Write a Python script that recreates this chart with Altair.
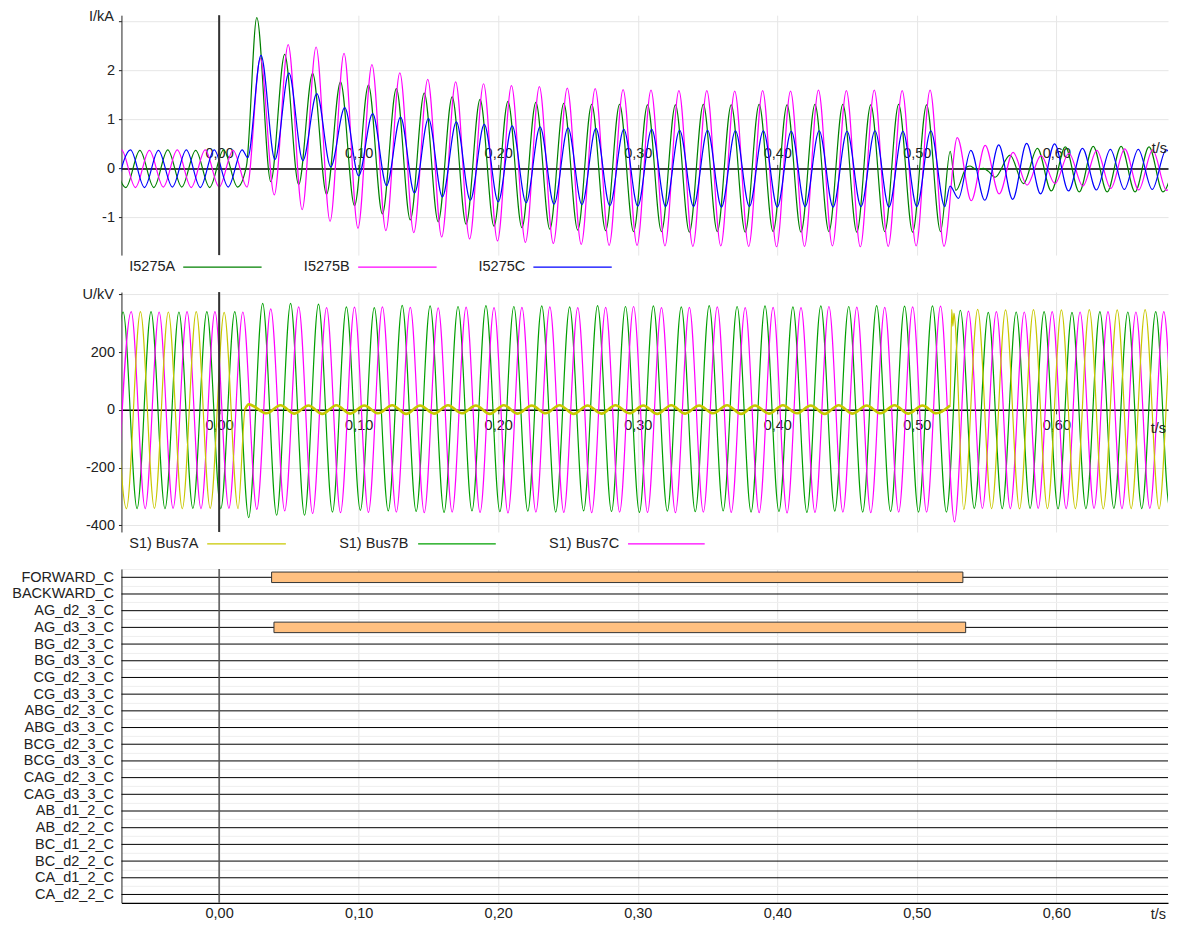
import altair as alt
import pandas as pd

FONT = "Liberation Sans"
FS = 14.5
TXT = "#222222"
GRID = "#e6e6e6"

T_MIN, T_MAX = -0.07, 0.68
STEP = 0.01          # spacing of successive extrema
X_TICKS = [0.0, 0.1, 0.2, 0.3, 0.4, 0.5, 0.6]

# ---------------- currents (kA), extrema ----------------
IA_PRE_T0 = -0.0768
IA_PRE = [0.38, -0.39, 0.37, -0.39, 0.38, -0.38, 0.37, -0.39, 0.38, -0.38]
IA_FAULT_T0 = 0.027
IA_FAULT = [3.08, -0.27, 2.33, -0.33, 1.94, -0.53, 1.77, -0.76, 1.70, -0.93,
            1.63, -1.05, 1.54, -1.09, 1.46, -1.14, 1.41, -1.18, 1.37, -1.21,
            1.35, -1.24, 1.33, -1.26, 1.31, -1.27, 1.31, -1.29, 1.30, -1.29,
            1.30, -1.30, 1.31, -1.29, 1.30, -1.30, 1.31, -1.29, 1.30, -1.30,
            1.31, -1.29, 1.31, -1.30, 1.30, -1.29, 1.31, -1.30, 1.30, -1.29]
IA_TR_T = [0.0196, 0.5239, 0.5280, 0.5358, 0.5382, 0.5430, 0.5477, 0.5513, 0.5561, 0.5668, 0.5764]
IA_TR_V = [0.05, 0.35, -0.45, 0.03, 0.05, -0.03, 0.00, -0.06, -0.18, 0.27, -0.31]
IA_POST_T0 = 0.5864
IA_POST = [0.41, -0.46, 0.44, -0.48, 0.45, -0.48, 0.45, -0.48, 0.44, -0.48, 0.44]

IB_PRE_T0 = -0.080
IB_PRE = [-0.38, 0.38, -0.39, 0.37, -0.38, 0.38, -0.39, 0.38, -0.38, 0.37, -0.38]
IB_FAULT_T0 = 0.0295
IB_FAULT = [2.25, -0.54, 2.53, -0.84, 2.48, -1.08, 2.35, -1.22, 2.12, -1.27,
            1.95, -1.31, 1.82, -1.40, 1.77, -1.44, 1.73, -1.48, 1.69, -1.51,
            1.67, -1.53, 1.64, -1.55, 1.63, -1.57, 1.61, -1.57, 1.60, -1.58,
            1.59, -1.59, 1.59, -1.58, 1.58, -1.59, 1.59, -1.60, 1.58, -1.59,
            1.60, -1.58, 1.59, -1.60, 1.60, -1.59, 1.59, -1.58, 1.60, -1.59]
IB_POST_T0 = 0.529
IB_POST = [0.63, -0.66, 0.47, -0.52, 0.33, -0.34, 0.26, -0.31, 0.31, -0.36,
           0.37, -0.41, 0.40, -0.44, 0.38, -0.45, 0.38]

IC_PRE_T0 = -0.0735
IC_PRE = [-0.39, 0.38, -0.39, 0.37, -0.38, 0.38, -0.39, 0.38, -0.38, 0.38]
IC_FAULT_T0 = 0.030
IC_FAULT = [2.31, 0.18, 1.95, 0.16, 1.53, 0.03, 1.24, -0.15, 1.12, -0.35,
            1.05, -0.50, 1.02, -0.58, 0.95, -0.65, 0.90, -0.68, 0.87, -0.70,
            0.85, -0.73, 0.83, -0.74, 0.82, -0.76, 0.80, -0.77, 0.80, -0.78,
            0.78, -0.78, 0.78, -0.79, 0.77, -0.78, 0.77, -0.79, 0.76, -0.78,
            0.77, -0.79, 0.76, -0.78, 0.77, -0.79, 0.76, -0.78, 0.77, -0.78]
IC_TR_T = [0.0205, 0.5238, 0.5298]
IC_TR_V = [0.22, -0.36, -0.61]
IC_POST_T0 = 0.5387
IC_POST = [0.37, -0.65, 0.48, -0.63, 0.51, -0.52, 0.50, -0.46, 0.41, -0.44,
           0.39, -0.43, 0.39, -0.43, 0.38, -0.43]

# ---------------- voltages (kV), extrema ----------------
VA_PRE_T0 = -0.0764
VA_PRE = [339, -342, 340, -341, 339, -342, 340, -341, 338, -342]
VA_TR1_T = [0.0186, 0.0212]
VA_TR1_V = [2, 19]
VA_FAULT_T0 = 0.034
VA_FAULT = [-12, 16, -13, 15, -14, 16, -13, 15, -12, 16,
            -14, 15, -13, 16, -12, 15, -14, 16, -13, 15,
            -12, 16, -14, 15, -13, 16, -12, 15, -14, 16,
            -13, 15, -12, 16, -14, 15, -13, 16, -12, 15,
            -14, 16, -13, 15, -12, 16, -13, 15, -12]
VA_TR2_T = [0.5238, 0.5250, 0.5258, 0.5266, 0.5274]
VA_TR2_V = [15, 348, 290, 335, 305]
VA_POST_T0 = 0.5336
VA_POST = [-345, 348, -342, 346, -343, 347, -342, 346, -342, 347,
           -343, 346, -342, 347, -343, 346, -342]

VB_T0 = -0.0788
VB = [-341, 339, -342, 340, -342, 339, -341, 340, -342, 340,
      -373, 369, -365, 369, -365, 366, -354, 357, -348, 354,
      -350, 362, -352, 360, -355, 358, -350, 361, -353, 358,
      -351, 360, -354, 357, -350, 361, -352, 358, -355, 360,
      -351, 357, -353, 361, -350, 358, -354, 360, -352, 357,
      -355, 360, -351, 358, -354, 361, -352, 359, -354, 360,
      -354, 345, -341, 338, -342, 339, -341, 340, -343, 338,
      -342, 340, -341, 339, -342, 340, -341, 339]

VC_T0 = -0.073
VC = [-341, 340, -342, 339, -341, 340, -342, 340, -341, 339,
      -345, 350, -350, 357, -359, 354, -356, 356, -355, 357,
      -354, 355, -356, 353, -354, 356, -355, 354, -357, 355,
      -354, 357, -355, 354, -356, 355, -354, 358, -355, 354,
      -356, 355, -354, 357, -355, 354, -356, 355, -357, 354,
      -355, 358, -354, 356, -356, 355, -354, 357, -354, 359,
      -388, 342, -341, 340, -342, 339, -341, 340, -342, 339,
      -341, 340, -342, 339, -341, 340, -342, 339]

# ---------------- binary channels ----------------
CHANNELS = ["FORWARD_C", "BACKWARD_C", "AG_d2_3_C", "AG_d3_3_C", "BG_d2_3_C",
            "BG_d3_3_C", "CG_d2_3_C", "CG_d3_3_C", "ABG_d2_3_C", "ABG_d3_3_C",
            "BCG_d2_3_C", "BCG_d3_3_C", "CAG_d2_3_C", "CAG_d3_3_C", "AB_d1_2_C",
            "AB_d2_2_C", "BC_d1_2_C", "BC_d2_2_C", "CA_d1_2_C", "CA_d2_2_C"]
ON_CHANNELS = ["FORWARD_C", "AG_d3_3_C"]
ON_START = [0.0376, 0.0393]
ON_END = [0.5330, 0.5350]

CUR_NAMES = ["I5275A", "I5275B", "I5275C"]
CUR_COLORS = ["#008000", "#ff00ff", "#0000ff"]
VOLT_NAMES = ["S1) Bus7A", "S1) Bus7B", "S1) Bus7C"]
VOLT_COLORS = ["#c8c800", "#00a000", "#ff00ff"]


def build(name, color, segments, points=()):
    rows = []
    for t0, vals in segments:
        rows += [(round(t0 + STEP * i, 5), v) for i, v in enumerate(vals)]
    for ts, vs in points:
        rows += list(zip(ts, vs))
    rows.sort()
    return pd.DataFrame({"t": [r[0] for r in rows], "v": [r[1] for r in rows],
                         "series": name, "color": color})


cur = pd.concat([
    build("I5275A", CUR_COLORS[0], [(IA_PRE_T0, IA_PRE), (IA_FAULT_T0, IA_FAULT), (IA_POST_T0, IA_POST)],
          [(IA_TR_T, IA_TR_V)]),
    build("I5275B", CUR_COLORS[1], [(IB_PRE_T0, IB_PRE), (IB_FAULT_T0, IB_FAULT), (IB_POST_T0, IB_POST)]),
    build("I5275C", CUR_COLORS[2], [(IC_PRE_T0, IC_PRE), (IC_FAULT_T0, IC_FAULT), (IC_POST_T0, IC_POST)],
          [(IC_TR_T, IC_TR_V)]),
], ignore_index=True)

va = build("S1) Bus7A", VOLT_COLORS[0], [(VA_PRE_T0, VA_PRE), (VA_FAULT_T0, VA_FAULT), (VA_POST_T0, VA_POST)],
           [(VA_TR1_T, VA_TR1_V), (VA_TR2_T, VA_TR2_V)])
volt = pd.concat([
    build("S1) Bus7B", VOLT_COLORS[1], [(VB_T0, VB)]),
    build("S1) Bus7C", VOLT_COLORS[2], [(VC_T0, VC)]),
    va,
], ignore_index=True)
va_fault = va[(va.t >= 0.0186) & (va.t <= 0.5238)]

W = 1047
H_WAVE = 240
H_BIN = 334
GAP = 37
CUR_DOM = [-1.77, 3.13]
VOLT_DOM = [-423, 408]
zero_cur = H_WAVE * CUR_DOM[1] / (CUR_DOM[1] - CUR_DOM[0])
zero_volt = H_WAVE * VOLT_DOM[1] / (VOLT_DOM[1] - VOLT_DOM[0])

x_scale = alt.Scale(domain=[T_MIN, T_MAX], nice=False, zero=False)
X_LABEL = "replace(format(datum.value, '.2f'), '.', ',')"


def x_axis(orient, offset, pad):
    return alt.Axis(orient=orient, offset=offset, values=X_TICKS, labelExpr=X_LABEL,
                    grid=True, gridColor=GRID, domainColor="black", domainWidth=1.5,
                    tickColor="#444", tickSize=4, labelPadding=pad, labelFontSize=FS,
                    labelColor=TXT, title=None)


def y_axis(vals, hidden, title, title_y):
    return alt.Axis(values=vals, labelExpr=f"datum.value == {hidden} ? '' : '' + datum.value",
                    grid=True, gridColor=GRID, domainColor="#222", tickColor="#222", tickSize=3,
                    labelPadding=4, labelFontSize=FS, labelColor=TXT,
                    title=title, titleAngle=0, titleAlign="right", titleBaseline="middle",
                    titleX=-8, titleY=title_y, titleFontSize=FS, titleFontWeight="normal",
                    titleColor=TXT)


def legend_layers(names, colors, text_x, line_x, y):
    layers = []
    one = pd.DataFrame({"k": [0]})
    for n, c, tx, (l0, l1) in zip(names, colors, text_x, line_x):
        layers.append(alt.Chart(one).mark_text(align="left", baseline="middle", fontSize=FS,
                                               color=TXT).encode(
            x=alt.value(tx), y=alt.value(y), text=alt.value(n)))
        layers.append(alt.Chart(one).mark_rule(color=c, strokeWidth=1.3).encode(
            x=alt.value(l0), x2=alt.value(l1), y=alt.value(y)))
    return layers


def ts_label(x, y):
    return alt.Chart(pd.DataFrame({"k": [0]})).mark_text(
        align="right", baseline="middle", fontSize=FS, color=TXT).encode(
        x=alt.value(x), y=alt.value(y), text=alt.value("t/s"))


zero_rule = pd.DataFrame({"t": [0.0]})

# ---- current panel ----
cur_lines = alt.Chart(cur).mark_line(clip=True, strokeWidth=1.2, interpolate="monotone").encode(
    x=alt.X("t:Q", scale=x_scale, axis=x_axis("top", -zero_cur, 4)),
    y=alt.Y("v:Q", scale=alt.Scale(domain=CUR_DOM, nice=False, zero=False),
            axis=y_axis([-1, 0, 1, 2, 3], 3, "I/kA", 1.5)),
    color=alt.Color("color:N", scale=None),
    detail="series:N",
)
cur_zero = alt.Chart(zero_rule).mark_rule(color="#333", strokeWidth=2).encode(x="t:Q")
top = alt.layer(
    cur_lines, cur_zero, ts_label(1046, 134),
    *legend_layers(CUR_NAMES, CUR_COLORS, [7.8, 182.5, 357.2],
                   [(61.8, 140.2), (236.8, 315.3), (412.1, 490.5)], 252),
).properties(width=W, height=H_WAVE)

# ---- voltage panel ----
volt_lines = alt.Chart(volt).mark_line(clip=True, strokeWidth=1.2, interpolate="monotone").encode(
    x=alt.X("t:Q", scale=x_scale, axis=x_axis("bottom", -(H_WAVE - zero_volt), 5)),
    y=alt.Y("v:Q", scale=alt.Scale(domain=VOLT_DOM, nice=False, zero=False),
            axis=y_axis([-400, -200, 0, 200, 400], 400, "U/kV", 2.3)),
    color=alt.Color("color:N", scale=None),
    detail="series:N",
)
va_thick = alt.Chart(va_fault).mark_line(clip=True, strokeWidth=2.6, interpolate="monotone",
                                         color=VOLT_COLORS[0]).encode(x="t:Q", y="v:Q")
volt_zero = alt.Chart(zero_rule).mark_rule(color="#333", strokeWidth=2).encode(x="t:Q")
mid = alt.layer(
    volt_lines, va_thick, volt_zero, ts_label(1045, 137),
    *legend_layers(VOLT_NAMES, VOLT_COLORS,
                   [7.8, 217.8, 427.8], [(85.8, 164.5), (296.8, 374.5), (506.8, 583.5)], 252),
).properties(width=W, height=H_WAVE)

# ---- binary channel panel ----
y_bin = alt.Scale(type="band", domain=CHANNELS, paddingInner=0, paddingOuter=0)
rules_df = pd.DataFrame({"channel": CHANNELS, "t0": T_MIN, "t1": T_MAX})
bars_df = pd.DataFrame({"channel": ON_CHANNELS, "start": ON_START, "end": ON_END})

bin_rules = alt.Chart(rules_df).mark_rule(color="black", strokeWidth=1).encode(
    x=alt.X("t0:Q", scale=x_scale,
            axis=alt.Axis(values=X_TICKS, labelExpr=X_LABEL, grid=True, gridColor=GRID,
                          domainColor="black", domainWidth=1.2, ticks=False, labelPadding=4,
                          labelFontSize=FS, labelColor=TXT, title=None)),
    x2="t1:Q",
    y=alt.Y("channel:N", scale=y_bin, sort=CHANNELS,
            axis=alt.Axis(title=None, labelFontSize=FS, labelColor=TXT, labelPadding=8, ticks=False,
                          domainColor="#222", grid=True, gridColor="#eeeeee", tickBand="extent")),
)
bin_bars = alt.Chart(bars_df).mark_bar(size=10.5, fill="#ffc080", stroke="#333", strokeWidth=1).encode(
    x="start:Q", x2="end:Q", y=alt.Y("channel:N", scale=y_bin, sort=CHANNELS))
bin_zero = alt.Chart(zero_rule).mark_rule(color="#555", strokeWidth=1.5).encode(x="t:Q")
bot = alt.layer(bin_rules, bin_bars, bin_zero, ts_label(1045, 346)).properties(width=W, height=H_BIN)

chart = alt.vconcat(top, mid, bot, spacing=GAP, bounds="flush").properties(
    padding={"left": 3.5, "top": 0, "right": 0, "bottom": -1},
).configure_view(stroke=None).configure_axis(
    labelFont=FONT, titleFont=FONT
).configure_text(font=FONT)

chart.save("out.html", embed_options={"renderer": "svg", "actions": False})
